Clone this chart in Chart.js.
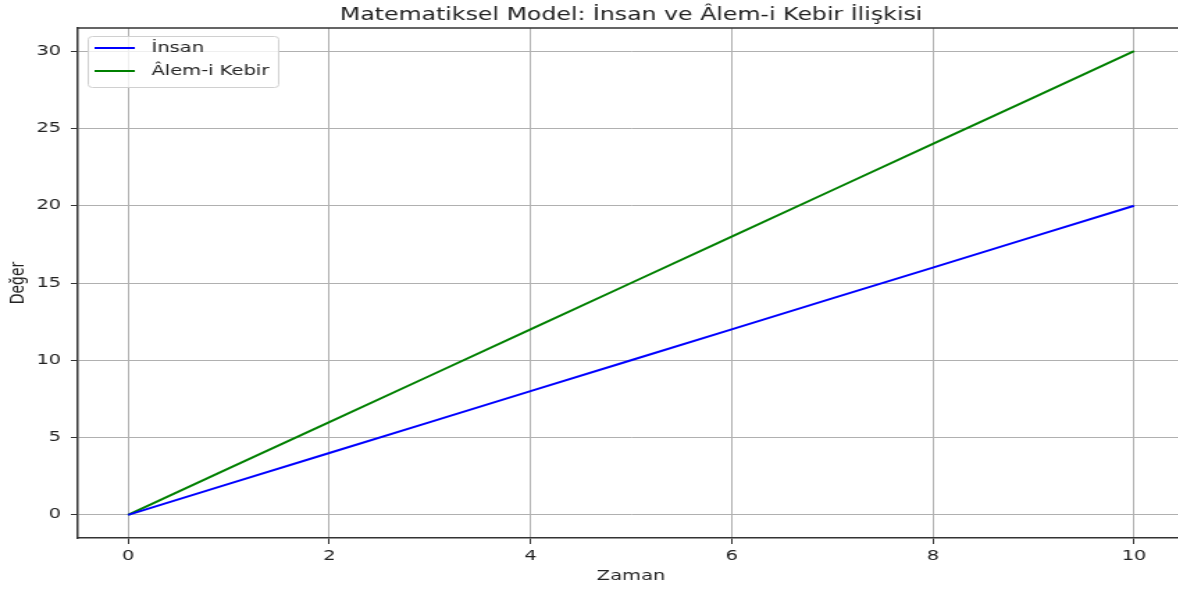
<!DOCTYPE html>
<html>
<head>
<meta charset="utf-8">
<script src="https://cdn.jsdelivr.net/npm/chart.js@4"></script>
<style>
  html, body { margin: 0; padding: 0; background: #fff; overflow: hidden; }
  /* the reference image is stretched sideways, so the chart is drawn narrow and widened */
  #wrap { width: 856px; height: 593px; transform: scaleX(1.39); transform-origin: 0 0; }
</style>
</head>
<body>
<div id="wrap"><canvas id="chart"></canvas></div>
<script>
const zaman = [0, 1, 2, 3, 4, 5, 6, 7, 8, 9, 10];
const insan = [0, 2, 4, 6, 8, 10, 12, 14, 16, 18, 20];
const alemiKebir = [0, 3, 6, 9, 12, 15, 18, 21, 24, 27, 30];
const xTicks = [0, 2, 4, 6, 8, 10];
const yTicks = [0, 5, 10, 15, 20, 25, 30];
const title = "Matematiksel Model: İnsan ve Âlem-i Kebir İlişkisi";

const font = "'DejaVu Sans', sans-serif";

// matplotlib-like extras: title over the axes, top spine, legend inside the plot
const mplLook = {
  id: "mplLook",
  afterDraw(chart) {
    const { ctx, chartArea } = chart;
    ctx.save();
    ctx.strokeStyle = "#333";
    ctx.lineWidth = 1.5;
    ctx.beginPath();
    ctx.moveTo(chartArea.left, chartArea.top);
    ctx.lineTo(chartArea.right, chartArea.top);
    ctx.lineTo(chartArea.right, chartArea.bottom);
    ctx.stroke();

    ctx.fillStyle = "#222";
    ctx.font = "17px " + font;
    ctx.textAlign = "center";
    ctx.textBaseline = "alphabetic";
    ctx.fillText(title, (chartArea.left + chartArea.right) / 2, 20);

    // legend box
    const bx = chartArea.left + 7, by = chartArea.top + 8, bw = 137, bh = 51;
    ctx.fillStyle = "rgba(255,255,255,0.8)";
    ctx.strokeStyle = "#d0d0d0";
    ctx.lineWidth = 1;
    ctx.beginPath();
    ctx.roundRect(bx + 0.5, by + 0.5, bw, bh, 3);
    ctx.fill();
    ctx.stroke();
    ctx.textBaseline = "middle";
    chart.data.datasets.forEach((ds, i) => {
      const y = by + 12 + i * 23;
      ctx.strokeStyle = ds.borderColor;
      ctx.lineWidth = 2;
      ctx.beginPath();
      ctx.moveTo(bx + 5, y);
      ctx.lineTo(bx + 34, y);
      ctx.stroke();
      ctx.fillStyle = "#222";
      ctx.font = "14px " + font;
      ctx.textAlign = "left";
      ctx.fillText(ds.label, bx + 46, y);
    });
    ctx.restore();
  },
};

const ctx = document.getElementById("chart");
new Chart(ctx, {
  type: "line",
  data: {
    datasets: [
      {
        label: "İnsan",
        data: zaman.map((x, i) => ({ x: x, y: insan[i] })),
        borderColor: "#0000ff",
        borderWidth: 2,
        pointRadius: 0,
      },
      {
        label: "Âlem-i Kebir",
        data: zaman.map((x, i) => ({ x: x, y: alemiKebir[i] })),
        borderColor: "#008000",
        borderWidth: 2,
        pointRadius: 0,
      },
    ],
  },
  options: {
    responsive: true,
    maintainAspectRatio: false,
    animation: false,
    layout: { padding: { top: 28, right: 4, left: 0, bottom: 0 } },
    scales: {
      x: {
        type: "linear",
        min: -0.5,
        max: 10.5,
        afterBuildTicks: (axis) => { axis.ticks = xTicks.map((v) => ({ value: v })); },
        afterFit: (axis) => { axis.height = 55; },
        grid: { color: "#b0b0b0", lineWidth: 1, tickColor: "#333", tickLength: 6 },
        border: { color: "#333", width: 1.5 },
        ticks: { color: "#222", font: { family: font, size: 14 }, padding: 4, maxRotation: 0 },
        title: {
          display: true,
          text: "Zaman",
          color: "#222",
          font: { family: font, size: 14 },
          padding: { top: 8, bottom: 8 },
        },
      },
      y: {
        min: -1.5,
        max: 31.5,
        afterBuildTicks: (axis) => { axis.ticks = yTicks.map((v) => ({ value: v })); },
        afterFit: (axis) => { axis.width = 56; },
        grid: { color: "#b0b0b0", lineWidth: 1, tickColor: "#333", tickLength: 5 },
        border: { color: "#333", width: 1.5 },
        ticks: { color: "#222", font: { family: font, size: 14 }, padding: 7 },
        title: {
          display: true,
          text: "Değer",
          color: "#222",
          font: { family: font, size: 14 },
          padding: { top: 5, bottom: 5 },
        },
      },
    },
    plugins: {
      legend: { display: false },
      tooltip: { enabled: false },
    },
  },
  plugins: [mplLook],
});
</script>
</body>
</html>
